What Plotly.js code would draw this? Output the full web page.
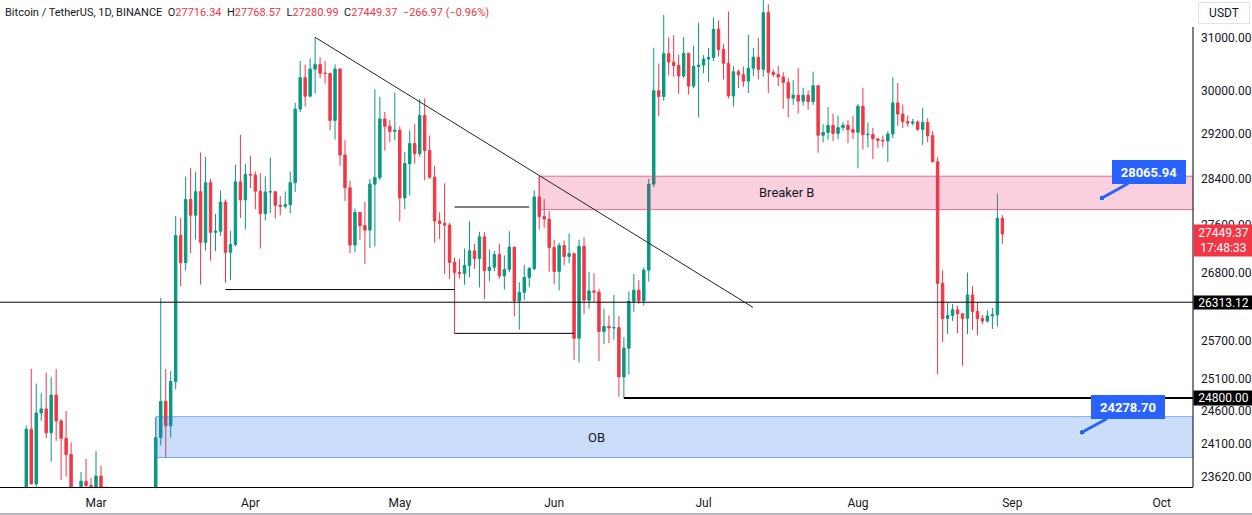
<!DOCTYPE html>
<html>
<head>
<meta charset="utf-8">
<script src="https://cdn.plot.ly/plotly-3.0.1.min.js"></script>
<style>
html,body{margin:0;padding:0;background:#ffffff;}
#chart{width:1252px;height:515px;}
</style>
</head>
<body>
<div id="chart"></div>
<script>
// ---- Daily candles BTC/USDT, 2023-02-15 .. 2023-08-30 ----
const firstDay = '2023-02-15';

const openP = [
22199,24325,23517,24569,24632,24271,24843,24450,24188,23947,23199,23158,23555,23492,
23142,23629,23466,22355,22346,22430,22410,22196,21705,20363,20187,20633,22163,24197,24746,24375,25055,27423,26965,28039,27768,28175,27307,28333,27476,27494,27994,27139,27268,28348,28033,
28479,28466,28185,27796,28170,28175,27940,27923,27950,28333,29653,30235,29892,30396,30485,30318,30315,29446,30397,28823,28245,27262,27816,27590,27514,28307,28423,29473,29340,29248,
29268,28068,28669,29027,28848,29535,28904,28430,27669,27628,27599,26969,26804,26785,26917,27163,27034,27399,26833,26890,27102,26747,26850,27226,26334,26476,26720,26868,28085,27745,27702,
27220,26820,27252,27070,27116,25734,27239,26346,26498,26478,25840,25923,25897,25903,25125,25575,26328,26510,26336,26841,28308,29993,29885,30688,30528,30463,30267,30693,30078,30445,
30472,30585,30617,31156,30767,30505,29895,30347,30292,30171,30414,30620,30391,31476,30334,30295,30249,30145,29856,29910,29800,29909,29790,30084,29177,29228,29354,29211,29315,29357,29278,
29231,29706,29187,29194,29112,29086,29075,29198,29766,29563,29424,29397,29416,29283,29408,29170,28701,26622,26049,26097,26189,26125,26052,26432,26163,26050,26007,26090,26108,27716.34
];
const highP = [
24380,25250,25021,24877,25190,25121,25250,24476,24600,24127,23219,23689,23880,23600,
23999,23780,23476,22400,22618,22552,22535,22267,21835,20367,20792,22185,24500,26386,25250,25214,27756,27725,28440,28590,28528,28868,28790,28400,27792,28194,28040,27500,28650,29185,28660,
28810,28530,28500,28444,28778,28190,28100,28180,28530,29770,30550,30480,30600,31000,30620,30550,30320,30485,30412,29090,28366,27882,27820,28000,28399,30020,29880,29600,29451,29960,
29338,28879,29266,29379,29840,29850,29174,28631,27820,28322,27638,27050,27030,27200,27663,27279,27485,27478,27184,27160,27282,27088,27495,27228,26640,26932,26895,28200,28448,28048,27838,
27350,27300,27340,27455,27133,27350,27391,26810,26789,26531,26210,26100,26433,26090,25750,26488,26775,26675,26886,28402,30800,30500,31432,31000,31046,30666,31006,30703,30840,31283,
30660,30792,31380,31326,30877,31500,30449,30385,30445,31045,30800,30990,31804,31640,30390,30455,30336,30233,30185,30417,30050,29998,30350,30099,29376,29690,29569,29532,29414,29450,29530,
29744,30047,29410,29313,29115,29170,29250,30244,30137,29738,29539,29474,29450,29680,29485,29250,28783,26838,26299,26284,26260,26135,26800,26575,26314,26108,26180,26218,28142,27768.57
];
const lowP = [
22047,23505,23340,24450,24192,23840,24148,23574,23620,22800,22722,22950,23106,23020,
23020,23195,21971,22180,22200,22300,21927,21580,20043,19550,19950,20364,21918,24080,23900,24200,24930,26578,26832,27124,27353,26601,27168,27000,27156,27416,26631,26674,27240,27720,27525,
28240,27870,27200,27676,27805,27711,27766,27883,27800,28170,29600,29700,29870,29940,30230,30125,29266,29100,28633,28010,27125,27140,27349,26942,27211,27235,28377,28900,29053,29088,
27666,27872,28110,28670,28793,28378,28400,27300,27361,26777,26698,25811,26700,26600,26720,26861,26555,26362,26657,26822,26700,26522,26803,26080,25871,26350,26560,26838,27524,27555,26817,
26605,26505,26920,26955,25388,25350,26123,26208,26320,25370,25640,25656,25711,24820,24800,25158,26160,26287,26256,26650,28260,29525,29804,30280,30250,29933,30226,29920,30040,29500,
30320,30155,30550,30633,30200,29850,29701,30040,30064,29950,30266,30200,30254,29950,30250,30080,29659,29500,29730,29570,29720,29640,29730,28862,29047,29096,29069,29102,29257,29033,29111,
28585,28920,28960,28750,28946,28960,28701,29126,29350,29311,29337,29357,29260,29000,29050,28701,25166,25668,25801,26010,25812,25300,25800,25864,25777,25960,25985,25880,25922,27280.99
];
const closeP = [
24325,23517,24569,24632,24271,24843,24450,24188,23947,23199,23158,23555,23492,23142,
23629,23466,22355,22346,22430,22410,22196,21705,20363,20187,20633,22163,24197,24746,24375,25055,27423,26965,28039,27768,28175,27307,28333,27476,27494,27994,27139,27268,28348,28033,28479,
28466,28185,27796,28170,28175,27940,27923,27950,28333,29653,30235,29892,30396,30485,30318,30315,29446,30397,28823,28245,27262,27816,27590,27514,28307,28423,29473,29340,29248,29268,
28068,28669,29027,28848,29535,28904,28430,27669,27628,27599,26969,26804,26785,26917,27163,27034,27399,26833,26890,27102,26747,26850,27226,26334,26476,26720,26868,28085,27745,27702,27220,
26820,27252,27070,27116,25734,27239,26346,26498,26478,25840,25923,25897,25903,25125,25575,26328,26510,26336,26841,28308,29993,29885,30688,30528,30463,30267,30693,30078,30445,30472,
30585,30617,31156,30767,30505,29895,30347,30292,30171,30414,30620,30391,31476,30334,30295,30249,30145,29856,29910,29800,29909,29790,30084,29177,29228,29354,29211,29315,29357,29278,29231,
29706,29187,29194,29112,29086,29075,29198,29766,29563,29424,29397,29416,29283,29408,29170,28701,26622,26049,26097,26189,26125,26052,26432,26163,26050,26007,26090,26108,27716,27449.37
];

// axis ticks
const monthTicks  = ['2023-03-01','2023-04-01','2023-05-01','2023-06-01','2023-07-01','2023-08-01','2023-09-01','2023-10-01'];
const monthLabels = ['Mar','Apr','May','Jun','Jul','Aug','Sep','Oct'];
const priceTicks  = [23620,24100,24600,25100,25700,26800,27600,28400,29200,30000,31000];

// drawn levels / zones
const supportLevel = 26313.12;
const lowLevel = 24800;
const breakerZone = [27865, 28447];
const obZone = [23902, 24514];
const calloutPrices = [28065.94, 24278.70];
const lastPrice = 27449.37;
const countdown = '17:48:33';
const headerTitle = 'Bitcoin / TetherUS, 1D, BINANCE';
const headerO = '27716.34', headerH = '27768.57', headerL = '27280.99', headerC = '27449.37';
const headerChg = '\u2212266.97 (\u22120.96%)';

// build date list (consecutive days)
const dates = [];
const d0 = new Date(firstDay + 'T00:00:00Z').getTime();
for (let i = 0; i < closeP.length; i++) {
  dates.push(new Date(d0 + i * 86400000).toISOString().slice(0, 10));
}

const GREEN = '#089981', RED = '#f23645', BLUE = '#2962ff';
const FONT = 'Roboto, "Open Sans", sans-serif';
const FAR = '2023-11-30';

const traces = [];
// candles
traces.push({
  type: 'candlestick', x: dates, open: openP, high: highP, low: lowP, close: closeP,
  increasing: {line: {color: GREEN, width: 1}, fillcolor: GREEN},
  decreasing: {line: {color: RED, width: 1}, fillcolor: RED},
  whiskerwidth: 0, hoverinfo: 'skip'
});
// zones (translucent, drawn over candles like the original drawings)
traces.push({
  type: 'scatter', mode: 'lines',
  x: ['2023-05-29', FAR, FAR, '2023-05-29', '2023-05-29'],
  y: [breakerZone[0], breakerZone[0], breakerZone[1], breakerZone[1], breakerZone[0]],
  fill: 'toself', fillcolor: 'rgba(230,35,100,0.21)', line: {color: 'rgba(222,70,130,0.75)', width: 1},
  hoverinfo: 'skip'
});
traces.push({
  type: 'scatter', mode: 'lines',
  x: ['2023-03-13', FAR, FAR, '2023-03-13', '2023-03-13'],
  y: [obZone[0], obZone[0], obZone[1], obZone[1], obZone[0]],
  fill: 'toself', fillcolor: 'rgba(33,118,230,0.24)', line: {color: 'rgba(60,120,230,0.6)', width: 1},
  hoverinfo: 'skip'
});
// lines
function hline(x0, x1, y, w) {
  return {type: 'scatter', mode: 'lines', x: [x0, x1], y: [y, y],
          line: {color: '#000000', width: w}, hoverinfo: 'skip'};
}
traces.push(hline('2023-01-01', FAR, supportLevel, 1));
traces.push(hline('2023-06-15', FAR, lowLevel, 2));
traces.push(hline('2023-03-27', '2023-05-12', 26520, 1));
traces.push(hline('2023-05-12', '2023-06-05', 25811, 1));
traces.push(hline('2023-05-12', '2023-05-27', 27910, 1));
traces.push({type: 'scatter', mode: 'lines', x: ['2023-04-14', '2023-07-10 22:00'], y: [31000, 26230],
             line: {color: '#222222', width: 1}, hoverinfo: 'skip'});
// callout anchor dots
traces.push({type: 'scatter', mode: 'markers', x: ['2023-09-19', '2023-09-15'], y: calloutPrices,
             marker: {size: 6, color: BLUE, line: {color: '#ffffff', width: 1}}, hoverinfo: 'skip'});

const L = v => Math.log10(v);
const SP = '\u00a0\u00a0';
const red = s => '<span style="color:#f23645">' + s + '</span>';
const annotations = [
  {xref: 'paper', yref: 'paper', x: 0, y: 1, xanchor: 'left', yanchor: 'top', xshift: 3, yshift: -4,
   showarrow: false, align: 'left', font: {family: FONT, size: 11, color: '#131722'},
   text: headerTitle + SP + 'O' + red(headerO) + SP + 'H' + red(headerH) + SP + 'L' + red(headerL) +
         SP + 'C' + red(headerC) + SP + red(headerChg)},
  {x: '2023-07-17 14:00', y: L(Math.sqrt(breakerZone[0] * breakerZone[1])), showarrow: false,
   text: 'Breaker B', font: {family: FONT, size: 13, color: '#131722'}},
  {x: '2023-06-09 10:00', y: L(Math.sqrt(obZone[0] * obZone[1])), showarrow: false,
   text: 'OB', font: {family: FONT, size: 13, color: '#131722'}},
  {x: '2023-09-19', y: L(calloutPrices[0]), ax: 47, ay: -26, showarrow: true, arrowhead: 0,
   arrowwidth: 3, arrowcolor: BLUE, standoff: 0, text: '<b>' + calloutPrices[0].toFixed(2) + '</b>',
   bgcolor: BLUE, bordercolor: BLUE, borderpad: 3, width: 66, height: 16,
   font: {family: FONT, size: 13, color: '#ffffff'}},
  {x: '2023-09-15', y: L(calloutPrices[1]), ax: 46, ay: -25, showarrow: true, arrowhead: 0,
   arrowwidth: 3, arrowcolor: BLUE, standoff: 0, text: '<b>' + calloutPrices[1].toFixed(2) + '</b>',
   bgcolor: BLUE, bordercolor: BLUE, borderpad: 3, width: 66, height: 16,
   font: {family: FONT, size: 13, color: '#ffffff'}},
  // axis price labels
  {xref: 'paper', x: 1, xanchor: 'left', y: L(supportLevel), yanchor: 'middle', showarrow: false,
   text: supportLevel.toFixed(2), bgcolor: '#000000', borderpad: 0, width: 59, height: 13,
   font: {family: FONT, size: 12, color: '#ffffff'}},
  {xref: 'paper', x: 1, xanchor: 'left', y: L(lowLevel), yanchor: 'middle', showarrow: false,
   text: lowLevel.toFixed(2), bgcolor: '#000000', borderpad: 0, width: 59, height: 14,
   font: {family: FONT, size: 12, color: '#ffffff'}},
  {xref: 'paper', x: 1, xanchor: 'left', y: L(lastPrice), yanchor: 'middle', yshift: -7,
   showarrow: false, text: lastPrice.toFixed(2) + '<br>' + countdown, bgcolor: RED, borderpad: 0,
   width: 59, height: 31, font: {family: FONT, size: 12, color: '#ffffff'}},
  // currency box
  {xref: 'paper', yref: 'paper', x: 1, y: 1, xanchor: 'left', yanchor: 'top', xshift: 5, yshift: -2,
   showarrow: false, text: 'USDT', bgcolor: '#ffffff', bordercolor: '#e0e3eb', borderwidth: 1,
   borderpad: 2, width: 46, height: 16, font: {family: FONT, size: 12, color: '#131722'}}
];

const layout = {
  width: 1252, height: 515,
  margin: {l: 0, r: 59, t: 0, b: 28},
  paper_bgcolor: '#ffffff', plot_bgcolor: '#ffffff',
  showlegend: false, hovermode: false,
  xaxis: {
    type: 'date', range: ['2023-02-09 17:21', '2023-10-07 06:43'],
    rangeslider: {visible: false}, showgrid: false, zeroline: false,
    showline: true, linecolor: '#000000', linewidth: 1,
    tickmode: 'array', tickvals: monthTicks, ticktext: monthLabels, ticks: '', ticklabelstandoff: 5,
    tickfont: {family: FONT, size: 12, color: '#131722'}, fixedrange: true
  },
  yaxis: {
    type: 'log', side: 'right', range: [L(23470), L(31724)],
    tickmode: 'array', tickvals: priceTicks, ticktext: priceTicks.map(v => v.toFixed(2)),
    showgrid: false, zeroline: false, showline: false, ticks: '', ticklabelstandoff: 7,
    tickfont: {family: FONT, size: 12, color: '#131722'}, fixedrange: true
  },
  shapes: [
    {type: 'line', xref: 'paper', yref: 'paper', x0: 1, x1: 1, y0: 0, y1: (487 - 27) / 487,
     line: {color: '#000000', width: 1}},
    {type: 'line', xref: 'paper', yref: 'paper', x0: 0, x1: 1252 / 1193, y0: -27 / 487, y1: -27 / 487,
     line: {color: '#a0a3ab', width: 1.5}}
  ],
  annotations: annotations
};

Plotly.newPlot('chart', traces, layout, {displayModeBar: false, staticPlot: true});
</script>
</body>
</html>
